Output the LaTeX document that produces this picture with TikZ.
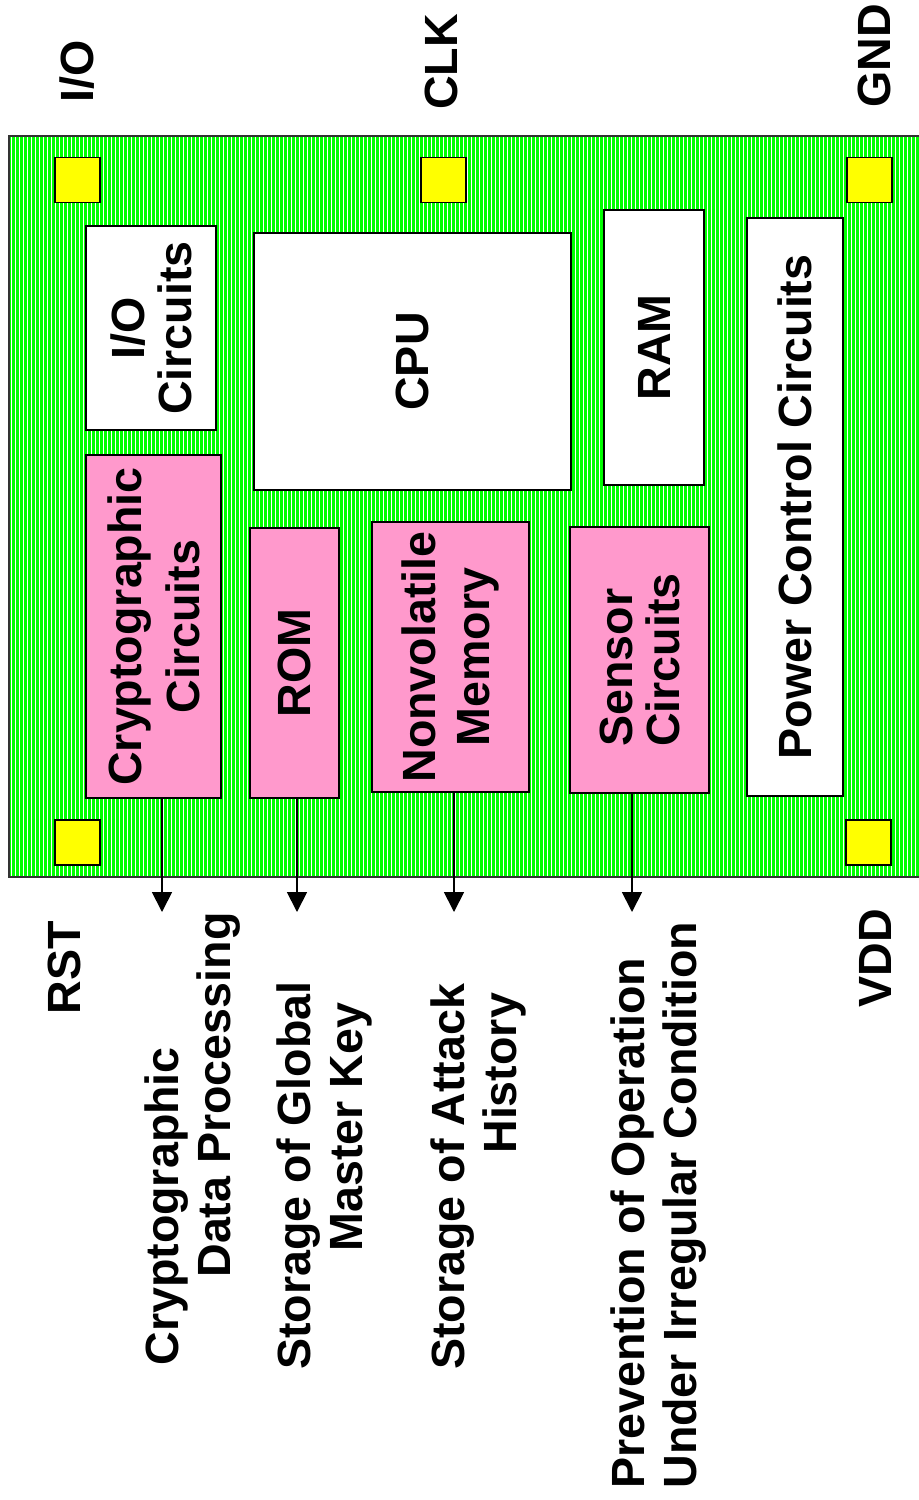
\documentclass[tikz,border=0pt]{standalone}
\usepackage{fontspec}
\setmainfont{Liberation Sans}
\usepackage{tikz}
\usetikzlibrary{arrows.meta}
\definecolor{Chip}{HTML}{00FF00}
\definecolor{Edge}{HTML}{333333}
\definecolor{Pad}{HTML}{FFFF00}
\definecolor{Block}{HTML}{FF99CC}
\tikzset{
  lead/.style={font=\fontsize{23.3}{#1}\selectfont\bfseries},
  lbl/.style={lead=23.5pt,inner sep=0pt,text=black},
  blk/.style={lbl,draw=black,line width=1pt,fill=white,rotate=90,align=center},
  blkpink/.style={blk,fill=Block},
  padbox/.style={draw=black,line width=0.9pt,fill=Pad,minimum size=22.5pt,inner sep=0pt},
  pinlbl/.style={lbl,rotate=90},
  note/.style={lbl,lead=26pt,rotate=90,anchor=north west,align=left},
  sig/.style={-{Triangle[length=10pt,width=10pt]},line width=0.9pt,draw=black}
}
\begin{document}
\begin{tikzpicture}[x=0.5pt,y=-0.5pt]
\useasboundingbox (0,0) rectangle (918,1500);
\fill[Chip] (9,136) rectangle (930,877);
\foreach \i in {0,...,227}
  \draw[white,line width=0.5pt] ({11.5+4*\i},137) -- ({11.5+4*\i},876);
\draw[Edge,line width=1pt] (9,136) rectangle (930,877);

\node[padbox] (pio) at (77.5,180) {};
\node[padbox] (pclk) at (443.5,180) {};
\node[padbox] (pgnd) at (869.5,180) {};
\node[padbox] (prst) at (77.5,842.5) {};
\node[padbox] (pvdd) at (868.5,842.5) {};

\node[pinlbl] (io lbl) at (77.5,71) {I/O};
\node[pinlbl] (clk lbl) at (441,62) {CLK};
\node[pinlbl] (gnd lbl) at (874,56) {GND};
\node[pinlbl] (rst lbl) at (64.5,968) {RST};
\node[pinlbl] (vdd lbl) at (875,958) {VDD};

\node[blk,minimum width=102pt,minimum height=65pt] (io) at (151,328) {I/O\\Circuits};
\node[blkpink,lead=29pt,minimum width=171.5pt,minimum height=67.5pt] (crypt) at (153.5,626.5) {Cryptographic\\Circuits};
\node[blk,minimum width=128.5pt,minimum height=158.5pt] (cpu) at (412.5,361.5) {CPU};
\node[blkpink,minimum width=135pt,minimum height=44.5pt] (rom) at (294.5,663) {ROM};
\node[blkpink,lead=27pt,minimum width=135pt,minimum height=78.5pt] (nvm) at (450.5,657) {Nonvolatile\\Memory};
\node[blk,minimum width=137.5pt,minimum height=50pt] (ram) at (654,347.5) {RAM};
\node[blkpink,align=left,minimum width=133pt,minimum height=69.5pt] (sensor) at (639.5,660) {Sensor\\Circuits};
\node[blk,minimum width=289pt,minimum height=48pt] (power) at (795,507) {Power Control Circuits};

\coordinate (o1) at (162,912);
\coordinate (o2) at (297,912);
\coordinate (o3) at (454,912);
\coordinate (o4) at (632,912);
\draw[sig] (crypt.west -| o1) -- (o1);
\draw[sig] (rom.west -| o2) -- (o2);
\draw[sig] (nvm.west -| o3) -- (o3);
\draw[sig] (sensor.west -| o4) -- (o4);

\node[note] (use1) at (144,1366) {Cryptographic\\\hspace*{44pt}Data Processing};
\node[note] (use2) at (276,1370) {Storage of Global\\\hspace*{59pt}Master Key};
\node[note] (use3) at (430,1370) {Storage of Attack\\\hspace*{108pt}History};
\node[note] (use4) at (610,1489) {Prevention of Operation\\Under Irregular Condition};
\end{tikzpicture}
\end{document}
